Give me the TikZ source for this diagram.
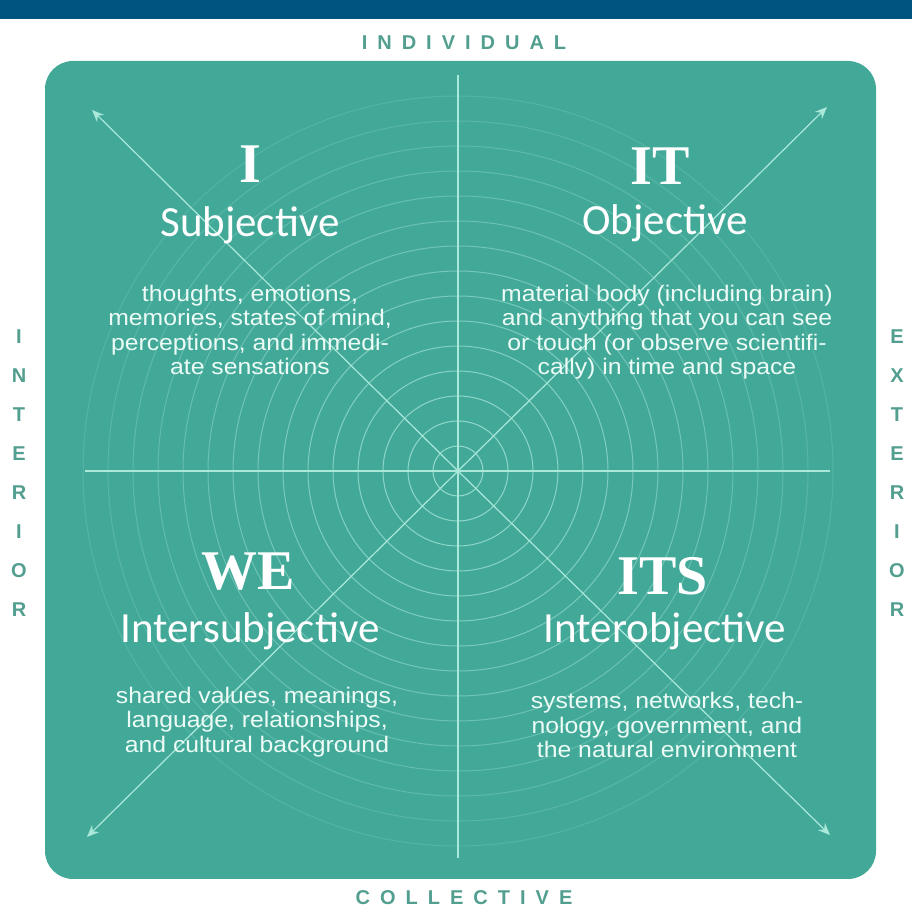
\documentclass[tikz,border=0pt]{standalone}
\usepackage{fontspec}
\setmainfont{Liberation Sans}
\newfontfamily\headfont{Liberation Serif}
\newfontfamily\namefont{Carlito}
\newfontfamily\bodyfont[FakeStretch=1.1]{Liberation Sans}
\newfontfamily\axisfont[LetterSpace=50]{Liberation Sans}
\usetikzlibrary{arrows.meta}
\definecolor{quadteal}{RGB}{66,169,153}
\definecolor{quadline}{RGB}{170,232,218}
\definecolor{axislabel}{RGB}{82,158,143}
\definecolor{topbar}{RGB}{0,84,128}
\definecolor{bodywhite}{RGB}{236,251,246}
\tikzset{
  headtext/.style = {anchor = base, inner sep = 0, white, font = \headfont\bfseries\fontsize{56}{56}\selectfont},
  nametext/.style = {anchor = base, inner sep = 0, white, font = \namefont\fontsize{43}{43}\selectfont},
  bodytext/.style = {inner sep = 0, align = center, bodywhite, font = \bodyfont\fontsize{22.5}{24.5}\selectfont},
  axistext/.style = {inner sep = 0, axislabel, font = \axisfont\bfseries\fontsize{20}{20}\selectfont},
  sidetext/.style = {inner sep = 0, axislabel, font = \bfseries\fontsize{20}{20}\selectfont},
  diag/.style = {quadline, line width = 1.2, -{Stealth[length = 12, width = 10]}}
}
\begin{document}
\begin{tikzpicture}[x = 1pt, y = 1pt]
\useasboundingbox (0, 0) rectangle (912, 914);
\fill[topbar] (0, 895) rectangle (912, 914);
\fill[quadteal, rounded corners = 28] (45, 35) rectangle (876, 853);
\coordinate (c) at (458, 443);
\foreach \r [evaluate = \r as \op using 0.85 - 0.045 * \r] in {1, ..., 15}
  \draw[quadline, line width = 1, opacity = \op] (c) circle (25 * \r);
\draw[quadline, line width = 2] (458, 56) -- (458, 839);
\draw[quadline, line width = 2] (85, 443) -- (830, 443);
\coordinate (nw) at (92, 804);
\coordinate (ne) at (827, 807);
\coordinate (sw) at (87, 77);
\coordinate (se) at (830, 79);
\draw[diag] (c) -- (nw);
\draw[diag] (c) -- (ne);
\draw[diag] (c) -- (sw);
\draw[diag] (c) -- (se);

\node[headtext] (i) at (250, 731) {I};
\node[nametext] (subj) at (250, 677) {Subjective};
\node[bodytext] (subj-text) at (250, 584) {thoughts, emotions,\\memories, states of mind,\\perceptions, and immedi-\\ate sensations};

\node[headtext] (it) at (660, 729) {IT};
\node[nametext] (obj) at (665, 679) {Objective};
\node[bodytext] (obj-text) at (667, 582) {material body (including brain)\\and anything that you can see\\or touch (or observe scientifi-\\cally) in time and space};

\node[headtext] (we) at (248, 324) {WE};
\node[nametext] (intersubj) at (250, 271) {Intersubjective};
\node[bodytext] (intersubj-text) at (257, 192) {shared values, meanings,\\language, relationships,\\and cultural background};

\node[headtext] (its) at (663, 319) {ITS};
\node[nametext] (interobj) at (665, 271) {Interobjective};
\node[bodytext] (interobj-text) at (667, 189) {systems, networks, tech-\\nology, government, and\\the natural environment};

\node[axistext] (individual) at (464, 871) {INDIVIDUAL};
\node[axistext] (collective) at (464, 16) {COLLECTIVE};
\foreach \ch [count = \k] in {I, N, T, E, R, I, O, R}
  \node[sidetext] (interior-\k) at (19, 577 - 39 * \k + 39) {\ch};
\foreach \ch [count = \k] in {E, X, T, E, R, I, O, R}
  \node[sidetext] (exterior-\k) at (897, 577 - 39 * \k + 39) {\ch};
\end{tikzpicture}
\end{document}
